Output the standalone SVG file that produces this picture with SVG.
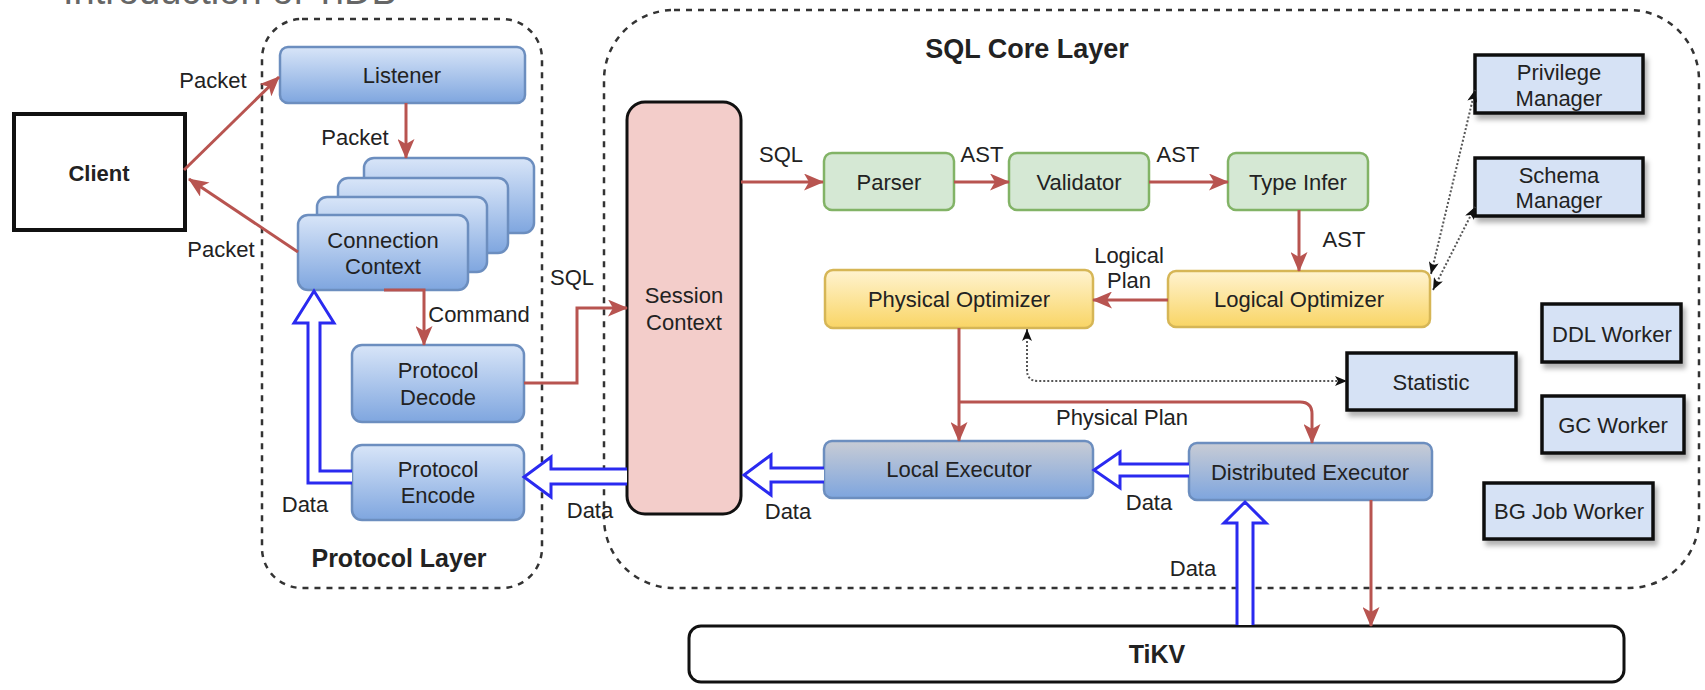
<svg xmlns="http://www.w3.org/2000/svg" width="1705" height="690" viewBox="0 0 1705 690">
<defs>
<style>
text{font-family:"Liberation Sans",Arial,sans-serif;fill:#222;}
.t{font-size:22px;text-anchor:middle;}
.lb{font-size:22px;text-anchor:middle;}
.b{font-weight:bold;}
.cont{fill:none;stroke:#333;stroke-width:2.5;stroke-dasharray:6 6;}
.blue{fill:url(#gBlue);stroke:#6c8ebf;stroke-width:2.5;}
.exec{fill:url(#gExec);stroke:#6c8ebf;stroke-width:2.5;}
.green{fill:#d5e8d4;stroke:#82b366;stroke-width:2.5;}
.yel{fill:url(#gYel);stroke:#d6b656;stroke-width:2.5;}
.mgr{fill:#d6e2f5;stroke:#111;stroke-width:3.5;filter:url(#sh);}
.red{fill:none;stroke:#b85450;stroke-width:3;marker-end:url(#ar);}
.dot{fill:none;stroke:#555;stroke-width:2;stroke-dasharray:2 2;marker-start:url(#ad);marker-end:url(#ad);}
.hol{fill:#fff;stroke:#2a2af0;stroke-width:3;stroke-linejoin:miter;}
</style>
<linearGradient id="gBlue" x1="0" y1="0" x2="0" y2="1"><stop offset="0" stop-color="#d8e5f8"/><stop offset="1" stop-color="#7fa6df"/></linearGradient>
<linearGradient id="gExec" x1="0" y1="0" x2="0" y2="1"><stop offset="0" stop-color="#c8ccd5"/><stop offset="1" stop-color="#7ea5de"/></linearGradient>
<linearGradient id="gYel" x1="0" y1="0" x2="0" y2="1"><stop offset="0" stop-color="#fff3d0"/><stop offset="1" stop-color="#f9d565"/></linearGradient>
<filter id="sh" x="-10%" y="-10%" width="130%" height="140%"><feDropShadow dx="3" dy="5" stdDeviation="2.5" flood-color="#000" flood-opacity="0.3"/></filter>
<marker id="ar" viewBox="0 0 20 17" refX="19" refY="8.5" markerWidth="20" markerHeight="17" markerUnits="userSpaceOnUse" orient="auto"><path d="M0,0 L20,8.5 L0,17 L5,8.5 z" fill="#b85450"/></marker>
<marker id="ad" viewBox="0 0 12 10" refX="12" refY="5" markerWidth="12" markerHeight="10" markerUnits="userSpaceOnUse" orient="auto-start-reverse"><path d="M0,0 L12,5 L0,10 L3,5 z" fill="#111"/></marker>
</defs>

<rect width="1705" height="690" fill="#fff"/>
<text x="63" y="4" style="font-size:38px;fill:#666;">Introduction of TiDB</text>

<g id="protocol-layer">
<rect class="cont" x="262" y="19" width="280" height="569" rx="40"/>
<text class="b" x="399" y="567" style="font-size:25px;text-anchor:middle;">Protocol Layer</text>
</g>
<g id="sql-core-layer">
<rect class="cont" x="604" y="10" width="1095" height="578" rx="70"/>
<text class="b" x="1027" y="58" style="font-size:27px;text-anchor:middle;">SQL Core Layer</text>
</g>

<g id="client"><rect x="14" y="114" width="171" height="116" fill="#fff" stroke="#111" stroke-width="4"/><text class="t b" x="99" y="181" style="font-size:22px">Client</text></g>
<g id="listener"><rect class="blue" x="280" y="47" width="245" height="56" rx="8"/><text class="t" x="402" y="83">Listener</text></g>
<g id="connection-context">
<rect class="blue" x="364" y="158" width="170" height="75" rx="10"/>
<rect class="blue" x="338" y="178" width="170" height="75" rx="10"/>
<rect class="blue" x="317" y="197" width="170" height="75" rx="10"/>
<rect class="blue" x="298" y="215" width="170" height="75" rx="10"/>
<text class="t" x="383" y="248">Connection</text><text class="t" x="383" y="274">Context</text>
</g>
<g id="protocol-decode"><rect class="blue" x="352" y="345" width="172" height="77" rx="10"/><text class="t" x="438" y="378">Protocol</text><text class="t" x="438" y="405">Decode</text></g>
<g id="protocol-encode"><rect class="blue" x="352" y="445" width="172" height="75" rx="10"/><text class="t" x="438" y="477">Protocol</text><text class="t" x="438" y="503">Encode</text></g>
<g id="session-context"><rect x="627" y="102" width="114" height="412" rx="18" fill="#f3cdca" stroke="#111" stroke-width="3"/><text class="t" x="684" y="303">Session</text><text class="t" x="684" y="330">Context</text></g>
<g id="parser"><rect class="green" x="824" y="153" width="130" height="57" rx="8"/><text class="t" x="889" y="190">Parser</text></g>
<g id="validator"><rect class="green" x="1009" y="153" width="140" height="57" rx="8"/><text class="t" x="1079" y="190">Validator</text></g>
<g id="type-infer"><rect class="green" x="1228" y="153" width="140" height="57" rx="8"/><text class="t" x="1298" y="190">Type Infer</text></g>
<g id="physical-optimizer"><rect class="yel" x="825" y="270" width="268" height="58" rx="8"/><text class="t" x="959" y="307">Physical Optimizer</text></g>
<g id="logical-optimizer"><rect class="yel" x="1168" y="271" width="262" height="56" rx="8"/><text class="t" x="1299" y="307">Logical Optimizer</text></g>
<g id="local-executor"><rect class="exec" x="824" y="441" width="269" height="57" rx="8"/><text class="t" x="959" y="477">Local Executor</text></g>
<g id="distributed-executor"><rect class="exec" x="1189" y="443" width="243" height="57" rx="8"/><text class="t" x="1310" y="480">Distributed Executor</text></g>
<g id="privilege-manager"><rect class="mgr" x="1475" y="55" width="168" height="58"/><text class="t" x="1559" y="80">Privilege</text><text class="t" x="1559" y="106">Manager</text></g>
<g id="schema-manager"><rect class="mgr" x="1475" y="158" width="168" height="58"/><text class="t" x="1559" y="183">Schema</text><text class="t" x="1559" y="208">Manager</text></g>
<g id="ddl-worker"><rect class="mgr" x="1542" y="304" width="139" height="58"/><text class="t" x="1612" y="342">DDL Worker</text></g>
<g id="statistic"><rect class="mgr" x="1347" y="353" width="169" height="57"/><text class="t" x="1431" y="390">Statistic</text></g>
<g id="gc-worker"><rect class="mgr" x="1542" y="396" width="142" height="57"/><text class="t" x="1613" y="433">GC Worker</text></g>
<g id="bg-job-worker"><rect class="mgr" x="1484" y="483" width="169" height="56"/><text class="t" x="1569" y="519">BG Job Worker</text></g>
<g id="tikv"><rect x="689" y="626" width="935" height="56" rx="12" fill="#fff" stroke="#111" stroke-width="3"/><text class="b" x="1157" y="663" style="font-size:25px;text-anchor:middle;">TiKV</text></g>

<g id="connectors">
<path class="red" d="M184,170 L279,77"/>
<path class="red" d="M298,252 L189,179"/>
<path class="red" d="M406,103 V158"/>
<path class="red" d="M384,290 H424 V345"/>
<path class="red" d="M524,383 H577 V308 H627"/>
<path class="red" d="M741,182 H823"/>
<path class="red" d="M954,182 H1009"/>
<path class="red" d="M1149,182 H1228"/>
<path class="red" d="M1299,210 V271"/>
<path class="red" d="M1168,300 H1093"/>
<path class="red" d="M959,328 V441"/>
<path class="red" d="M959,402 H1300 Q1312,402 1312,414 V443"/>
<path class="red" d="M1371,500 V626"/>
<path class="dot" d="M1027,329 V370 Q1027,381 1038,381 H1347"/>
<path class="dot" d="M1431,274 L1475,90"/>
<path class="dot" d="M1433,290 L1475,207"/>
<path class="hol" d="M627,469 H551 V457 L524,477 L551,497 V484 H627"/>
<path class="hol" d="M824,468 H771 V455 L744,475 L771,495 V482 H824"/>
<path class="hol" d="M1189,464 H1120 V452 L1094,470 L1120,488 V476 H1189"/>
<path class="hol" d="M352,471 H320 V323 H334 L314,291 L294,323 H308 V483 H352"/>
<path class="hol" d="M1237,625 V523 H1224 L1245,502 L1266,523 H1253 V625"/>
<text class="lb" x="213" y="88">Packet</text>
<text class="lb" x="355" y="145">Packet</text>
<text class="lb" x="221" y="257">Packet</text>
<text class="lb" x="479" y="322">Command</text>
<text class="lb" x="572" y="285">SQL</text>
<text class="lb" x="305" y="512">Data</text>
<text class="lb" x="590" y="518">Data</text>
<text class="lb" x="788" y="519">Data</text>
<text class="lb" x="1149" y="510">Data</text>
<text class="lb" x="1193" y="576">Data</text>
<text class="lb" x="781" y="162">SQL</text>
<text class="lb" x="982" y="162">AST</text>
<text class="lb" x="1178" y="162">AST</text>
<text class="lb" x="1344" y="247">AST</text>
<text class="lb" x="1129" y="263">Logical</text>
<text class="lb" x="1129" y="288">Plan</text>
<text class="lb" x="1122" y="425">Physical Plan</text>
</g>
</svg>
